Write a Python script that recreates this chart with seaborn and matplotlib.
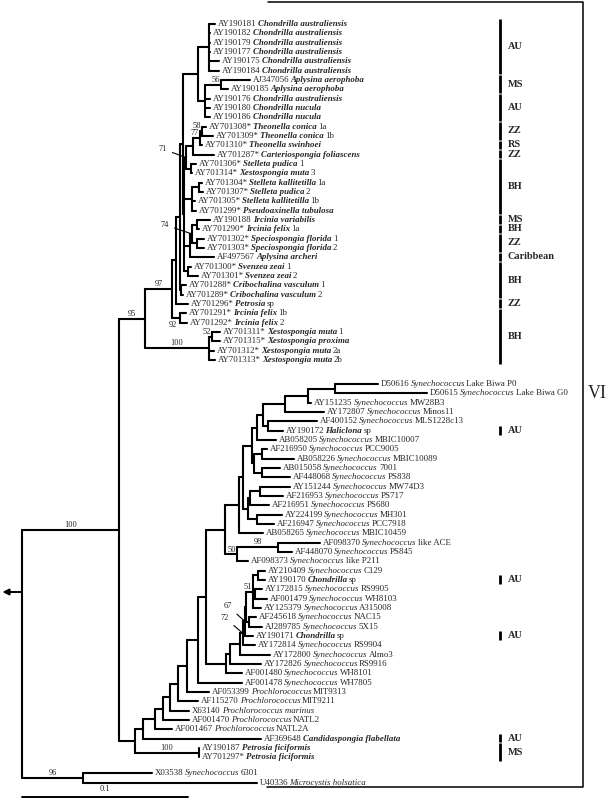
import matplotlib
matplotlib.use("Agg")
import matplotlib.pyplot as plt
from matplotlib import transforms
import pandas as pd
import seaborn as sns

# ---- internal nodes: name, parent, depth from the root (substitutions/site)
node_name = ["root", "n119", "n83", "n145", "n135", "n172", "n209x", "n212x",
             "n176", "n180g", "n180", "n181c", "n183", "n198", "n209a", "n205",
             "n221", "n184", "n186", "n193", "n200", "n202", "n191", "n192b",
             "n199b", "n190", "n192c", "n197a", "n197b", "n188",
             "n143", "n199p", "n155", "n163", "n170", "n178", "n187l", "n198l",
             "n206", "n225", "n239", "n243", "n252", "n257", "n263", "n285",
             "n308", "n335", "n268", "n254", "n262a", "n262b", "n248", "n250",
             "n260", "n257b", "n237", "n278", "n226", "n230", "n240", "n243b",
             "n245", "n247", "n253", "n258", "n255", "n249"]
node_parent = [None, "root", "root", "n119", "n119", "n145", "n145", "n209x",
               "n172", "n172", "n176", "n180", "n180", "n183", "n198", "n198",
               "n205", "n183", "n184", "n186", "n193", "n200", "n186", "n184",
               "n192b", "n184", "n190", "n192c", "n192c", "n184",
               "n135", "n135", "n143", "n155", "n163", "n170", "n178", "n187l",
               "n198l", "n206", "n225", "n239", "n243", "n252", "n257", "n263",
               "n285", "n308", "n263", "n252", "n254", "n254", "n243", "n248",
               "n250", "n248", "n225", "n237", "n206", "n226", "n230", "n240",
               "n243b", "n245", "n247", "n253", "n253", "n247"]
node_depth = [0.0, 0.0584, 0.0367, 0.0741, 0.0681, 0.0904, 0.1127, 0.1145,
              0.0928, 0.0952, 0.0952, 0.0958, 0.0970, 0.1060, 0.1127, 0.1102,
              0.1199, 0.0976, 0.0988, 0.1030, 0.1072, 0.1084, 0.1018, 0.1024,
              0.1066, 0.1012, 0.1024, 0.1054, 0.1054, 0.1000,
              0.0729, 0.1066, 0.0801, 0.0849, 0.0892, 0.0940, 0.0994, 0.1060,
              0.1108, 0.1223, 0.1307, 0.1331, 0.1386, 0.1416, 0.1452, 0.1584,
              0.1723, 0.1886, 0.1482, 0.1398, 0.1446, 0.1446, 0.1361, 0.1373,
              0.1434, 0.1416, 0.1295, 0.1542, 0.1229, 0.1253, 0.1313, 0.1331,
              0.1343, 0.1349, 0.1392, 0.1422, 0.1404, 0.1367]

# ---- leaves, top to bottom
leaf_acc = ["AY190181", "AY190182", "AY190179", "AY190177", "AY190175", "AY190184",
            "AJ347056", "AY190185", "AY190176", "AY190180", "AY190186",
            "AY701308*", "AY701309*", "AY701310*", "AY701287*", "AY701306*",
            "AY701314*", "AY701304*", "AY701307*", "AY701305*", "AY701299*",
            "AY190188", "AY701290*", "AY701302*", "AY701303*", "AF497567",
            "AY701300*", "AY701301*", "AY701288*", "AY701289*", "AY701296*",
            "AY701291*", "AY701292*", "AY701311*", "AY701315*", "AY701312*",
            "AY701313*",
            "D50616", "D50615", "AY151235", "AY172807", "AF400152", "AY190172",
            "AB058205", "AF216950", "AB058226", "AB015058", "AF448068", "AY151244",
            "AF216953", "AF216951", "AY224199", "AF216947", "AB058265", "AF098370",
            "AF448070", "AF098373", "AY210409", "AY190170", "AY172815", "AF001479",
            "AY125379", "AF245618", "AJ289785", "AY190171", "AY172814", "AY172800",
            "AY172826", "AF001480", "AF001478", "AF053399", "AF115270", "X63140",
            "AF001470", "AF001467", "AF369648", "AY190187", "AY701297*",
            "X03538", "U40336"]
leaf_taxon = ["Chondrilla australiensis"] * 6 + [
    "Aplysina aerophoba", "Aplysina aerophoba", "Chondrilla australiensis",
    "Chondrilla nucula", "Chondrilla nucula", "Theonella conica", "Theonella conica",
    "Theonella swinhoei", "Carteriospongia foliascens", "Stelleta pudica",
    "Xestospongia muta", "Stelleta kallitetilla", "Stelleta pudica",
    "Stelleta kallitetilla", "Pseudoaxinella tubulosa", "Ircinia variabilis",
    "Ircinia felix", "Speciospongia florida", "Speciospongia florida",
    "Aplysina archeri", "Svenzea zeai", "Svenzea zeai", "Cribochalina vasculum",
    "Cribochalina vasculum", "Petrosia", "Ircinia felix", "Ircinia felix",
    "Xestospongia muta", "Xestospongia proxima", "Xestospongia muta",
    "Xestospongia muta"] + ["Synechococcus"] * 5 + ["Haliclona"] + \
    ["Synechococcus"] * 15 + ["Chondrilla"] + ["Synechococcus"] * 5 + \
    ["Chondrilla"] + ["Synechococcus"] * 5 + [
    "Prochlorococcus", "Prochlorococcus", "Prochlorococcus marinus",
    "Prochlorococcus", "Prochlorococcus", "Candidaspongia flabellata",
    "Petrosia ficiformis", "Petrosia ficiformis", "Synechococcus",
    "Microcystis holsatica"]
leaf_strain = [""] * 11 + [
    "1a", "1b", "", "", "1", "3", "1a", "2", "1b", "", "", "1a", "1", "2", "",
    "1", "2", "1", "2", "sp", "1b", "2", "1", "", "2a", "2b",
    "Lake Biwa P0", "Lake Biwa G0", "MW28B3", "Minos11", "MLS1228c13", "sp",
    "MBIC10007", "PCC9005", "MBIC10089", "7001", "PS838", "MW74D3", "PS717",
    "PS680", "MH301", "PCC7918", "MBIC10459", "like ACE", "PS845", "like P211",
    "C129", "sp", "RS9905", "WH8103", "A315008", "NAC15", "5X15", "sp",
    "RS9904", "Almo3", "RS9916", "WH8101", "WH7805", "MIT9313", "MIT9211", "",
    "NATL2", "NATL2A", "", "", "", "6301", ""]
# 1 = sponge host (bold italic name)
leaf_sponge = [1] * 37 + [0] * 5 + [1] + [0] * 15 + [1] + [0] * 5 + [1] + \
    [0] * 10 + [1, 1, 1, 0, 0]
leaf_parent = ["n209a"] * 6 + [
    "n221", "n221", "n205", "n205", "n205", "n202", "n202", "n200", "n193",
    "n191", "n191", "n199b", "n199b", "n192b", "n192b", "n197a", "n197a",
    "n197b", "n197b", "n190", "n188", "n188", "n181c", "n181c", "n176",
    "n180g", "n180g", "n212x", "n212x", "n209x", "n209x",
    "n335", "n335", "n308", "n285", "n268", "n268", "n257", "n262a", "n262a",
    "n262b", "n262b", "n260", "n260", "n250", "n257b", "n257b", "n239",
    "n278", "n278", "n237", "n258", "n258", "n255", "n255", "n253", "n249",
    "n249", "n245", "n243b", "n240", "n230", "n226", "n198l", "n187l",
    "n178", "n170", "n163", "n155", "n143", "n199p", "n199p", "n83", "n83"]
leaf_depth = [0.1163, 0.1133, 0.1133, 0.1133, 0.1187, 0.1187,
              0.1373, 0.1241, 0.1133, 0.1133, 0.1133, 0.1108, 0.1151, 0.1084,
              0.1157, 0.1048, 0.1024, 0.1084, 0.1090, 0.1042, 0.1048, 0.1133,
              0.1066, 0.1096, 0.1096, 0.1157, 0.1018, 0.1060, 0.0988, 0.0970,
              0.1000, 0.0988, 0.0994, 0.1193, 0.1193, 0.1157, 0.1163,
              0.2145, 0.2440, 0.1741, 0.1819, 0.1777, 0.1572, 0.1530, 0.1476,
              0.1639, 0.1554, 0.1614, 0.1614, 0.1572, 0.1488, 0.1566, 0.1518,
              0.1452, 0.1795, 0.1627, 0.1361, 0.1464, 0.1464, 0.1446, 0.1476,
              0.1440, 0.1410, 0.1446, 0.1392, 0.1404, 0.1494, 0.1440, 0.1325,
              0.1325, 0.1127, 0.1060, 0.1006, 0.1006, 0.0904, 0.1440, 0.1066,
              0.1066, 0.0783, 0.1416]

# ---- bootstrap values
support_node = ["n119", "n83", "n145", "n172", "n209x", "n212x", "n180g", "n221",
                "n186", "n200", "n202", "n192c", "n199p", "n237", "n278", "n253",
                "n245", "n243b"]
support_value = [100, 96, 95, 97, 100, 52, 92, 56, 71, 77, 58, 74, 100, 50, 98,
                 51, 67, 72]

# ---- sampling regions (first leaf, last leaf; 1-based)
region_label = ["AU", "MS", "AU", "ZZ", "RS", "ZZ", "BH", "MS", "BH", "ZZ",
                "Caribbean", "BH", "ZZ", "BH", "AU", "AU", "AU", "AU", "MS"]
region_first = [1, 7, 9, 12, 14, 15, 16, 22, 23, 24, 26, 27, 31, 32, 43, 59, 65, 76, 77]
region_last = [6, 8, 11, 13, 14, 15, 21, 22, 23, 25, 26, 30, 31, 37, 43, 59, 65, 76, 78]

# leaf rows: three blocks separated by a small gap
block_sizes = [37, 41, 2]
block_step = [1.0, 2.6, 1.7]
rows = []
r = -1.0
for size, step in zip(block_sizes, block_step):
    r += step
    for i in range(size):
        if i:
            r += 1
        rows.append(r)

n_leaves = len(leaf_acc)
children = {}
parent_of = {}
xpos, ypos = {}, {}
for n, p, d in zip(node_name, node_parent, node_depth):
    children.setdefault(p, []).append(n)
    parent_of[n] = p
    xpos[n] = d
for i in range(n_leaves):
    children.setdefault(leaf_parent[i], []).append(i)
    parent_of[i] = leaf_parent[i]
    xpos[i] = leaf_depth[i]
    ypos[i] = rows[i]


def place(n):
    ys = [place(c) if isinstance(c, str) else ypos[c] for c in children[n]]
    ypos[n] = (min(ys) + max(ys)) / 2
    return ypos[n]


place("root")

segs = []
sid = 0
for n in node_name:
    ys = [ypos[c] for c in children[n]]
    segs += [(sid, xpos[n], min(ys)), (sid, xpos[n], max(ys))]
    sid += 1
for n, p in parent_of.items():
    if p is None:
        continue
    segs += [(sid, xpos[p], ypos[n]), (sid, xpos[n], ypos[n])]
    sid += 1
seg_df = pd.DataFrame(segs, columns=["seg", "x", "y"])

sns.set_theme(style="white")
plt.rcParams["font.family"] = ["Liberation Serif", "DejaVu Serif"]

fig = plt.figure(figsize=(6.08, 8.0), dpi=100)
ax = fig.add_axes([0, 0, 1, 1])
sns.lineplot(data=seg_df, x="x", y="y", units="seg", estimator=None, sort=False,
             color="black", lw=1.5, ax=ax, legend=False)

# leaf labels: accession, name (italic / bold italic), strain
fs = 6.4
for i in range(n_leaves):
    t = ax.annotate(leaf_acc[i], xy=(xpos[i], ypos[i]), xytext=(2.2, 0),
                    textcoords="offset points", va="center", ha="left", fontsize=fs)
    t = ax.annotate(leaf_taxon[i], xy=(1, 0), xycoords=t, xytext=(0.7, 0),
                    textcoords="offset points", va="bottom", ha="left", fontsize=fs,
                    fontstyle="italic",
                    fontweight="bold" if leaf_sponge[i] else "normal")
    if leaf_strain[i]:
        ax.annotate(leaf_strain[i], xy=(1, 0), xycoords=t, xytext=(0.9, 0),
                    textcoords="offset points", va="bottom", ha="left", fontsize=fs)

# bootstrap labels
arrow_off = {"n186": (-23, -8.5), "n192c": (-27, -9), "n245": (-17, -15.5),
             "n243b": (-18, -15.8)}
left_of = {"n212x", "n221", "n200", "n202", "n237", "n253"}
below = {"n180g"}
for n, v in zip(support_node, support_value):
    x, y = xpos[n], ypos[n]
    if n in arrow_off:
        dx, dy = arrow_off[n]
        ax.annotate(str(v), xy=(x, y), xytext=(dx * 0.72, -dy * 0.72),
                    textcoords="offset points", ha="center", va="center", fontsize=6,
                    arrowprops=dict(arrowstyle="-", lw=0.8, color="black",
                                    shrinkA=1.5, shrinkB=0))
    elif n in left_of:
        ax.annotate(str(v), xy=(x, y), xytext=(-0.8, 0.6), textcoords="offset points",
                    ha="right", va="bottom", fontsize=6)
    elif n in below:
        ax.annotate(str(v), xy=(x, y), xytext=(-2.5, -2.5), textcoords="offset points",
                    ha="right", va="top", fontsize=6)
    else:
        px = xpos[parent_of[n]]
        ax.annotate(str(v), xy=((px + x) / 2, y), xytext=(0, 0.8),
                    textcoords="offset points", ha="center", va="bottom", fontsize=6)

# region bars
blend = transforms.blended_transform_factory(ax.transAxes, ax.transData)
for lab, a, b in zip(region_label, region_first, region_last):
    y0, y1 = rows[a - 1] - 0.5, rows[b - 1] + 0.4
    ax.plot([500 / 608, 500 / 608], [y0, y1], transform=blend, color="black",
            lw=2.0, solid_capstyle="butt")
    ax.text(508 / 608, (y0 + y1) / 2, lab, transform=blend, fontsize=7.4,
            fontweight="bold", va="center", ha="left")

# cluster bracket VI
ax.plot([268 / 608, 583 / 608, 583 / 608, 267 / 608],
        [1 - 1.5 / 800, 1 - 1.5 / 800, 1 - 787 / 800, 1 - 787 / 800],
        transform=ax.transAxes, color="black", lw=1.1, clip_on=False)
ax.text(597 / 608, 1 - 394 / 800, "VI", transform=ax.transAxes, fontsize=13,
        ha="center", va="center")

# root arrow
ax.annotate("", xy=(-0.0118, 1 - 592 / 800), xycoords=("data", "axes fraction"),
            xytext=(0, 1 - 592 / 800), textcoords=("data", "axes fraction"),
            arrowprops=dict(arrowstyle="-|>", lw=1.4, color="black",
                            mutation_scale=9, shrinkA=0, shrinkB=0))

# scale bar
sb = transforms.blended_transform_factory(ax.transData, ax.transAxes)
ax.plot([0, 0.1], [1 - 797 / 800, 1 - 797 / 800], transform=sb, color="black", lw=1.4)
ax.text(0.05, 1 - 793 / 800, "0.1", transform=sb, ha="center", va="bottom", fontsize=6)

ax.set_xlim(-22 / 1660, 586 / 1660)
ax.set_ylim((800 - 24) / 9.33, -24 / 9.33)
ax.axis("off")
fig.savefig("out.png", dpi=100)
